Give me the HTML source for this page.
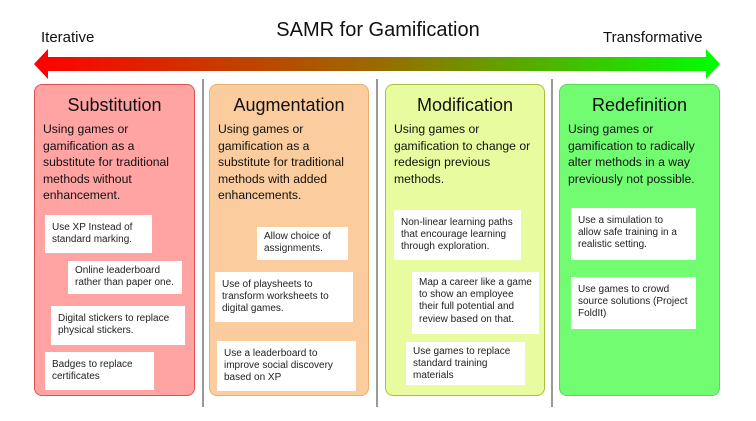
<!DOCTYPE html>
<html><head><style>
body{margin:0;width:756px;height:421px;background:#fff;position:relative;overflow:hidden;font-family:"Liberation Sans",sans-serif;color:#111}
.a{position:absolute}
.p{position:absolute;top:84px;height:312px;width:160px;border-radius:8px;box-sizing:border-box}
.p h2{margin:0;font-weight:normal;font-size:18px;text-align:center;position:absolute;top:10px;left:0;right:0}
.p .d{position:absolute;top:36px;left:8px;font-size:12.2px;line-height:16.6px;white-space:nowrap}
.b{position:absolute;background:#fff;font-size:10px;line-height:12.2px;box-sizing:border-box;padding:7px 7px;color:#222;white-space:nowrap}
.v{position:absolute;top:79px;width:2px;height:328px;background:#999}
</style></head><body>
<div class="a" style="left:0;width:756px;top:19px;text-align:center;font-size:20px">SAMR for Gamification</div>
<div class="a" style="left:41px;top:29px;font-size:15px">Iterative</div>
<div class="a" style="left:603px;top:29px;font-size:15px">Transformative</div>
<svg class="a" style="left:0;top:0" width="756" height="90">
<defs><linearGradient id="g" x1="34" x2="720" gradientUnits="userSpaceOnUse"><stop offset="0" stop-color="#ff0000"/><stop offset="0.5" stop-color="#9a6a00"/><stop offset="1" stop-color="#00ff00"/></linearGradient></defs>
<polygon points="34,64 48,49 48,57 706,57 706,49 720,64 706,79 706,71 48,71 48,79" fill="url(#g)"/>
</svg>
<div class="v" style="left:202px"></div><div class="v" style="left:376px"></div><div class="v" style="left:551px"></div>
<div class="p" style="left:34px;width:161px;background:#ffa3a3;border:1px solid #e05050"><h2>Substitution</h2><div class="d">Using games or<br>gamification as a<br>substitute for traditional<br>methods without<br>enhancement.</div></div>
<div class="p" style="left:209px;background:#fbcc9e;border:1px solid #e8b070"><h2>Augmentation</h2><div class="d">Using games or<br>gamification as a<br>substitute for traditional<br>methods with added<br>enhancements.</div></div>
<div class="p" style="left:385px;background:#e8fb9f;border:1px solid #a8c040"><h2>Modification</h2><div class="d">Using games or<br>gamification to change or<br>redesign previous<br>methods.</div></div>
<div class="p" style="left:559px;width:161px;background:#72fc72;border:1px solid #5ad85a"><h2>Redefinition</h2><div class="d">Using games or<br>gamification to radically<br>alter methods in a way<br>previously not possible.</div></div>
<div class="b" style="left:45px;top:215px;width:107px;height:38px">Use XP Instead of<br>standard marking.</div>
<div class="b" style="left:68px;top:261px;width:114px;height:33px;padding-top:4px">Online leaderboard<br>rather than paper one.</div>
<div class="b" style="left:51px;top:306px;width:134px;height:39px">Digital stickers to replace<br>physical stickers.</div>
<div class="b" style="left:45px;top:352px;width:109px;height:38px">Badges to replace<br>certificates</div>
<div class="b" style="left:257px;top:227px;width:91px;height:33px;padding-top:4px">Allow choice of<br>assignments.</div>
<div class="b" style="left:215px;top:272px;width:138px;height:50px">Use of playsheets to<br>transform worksheets to<br>digital games.</div>
<div class="b" style="left:217px;top:341px;width:139px;height:50px">Use a leaderboard to<br>improve social discovery<br>based on XP</div>
<div class="b" style="left:394px;top:210px;width:127px;height:50px">Non-linear learning paths<br>that encourage learning<br>through exploration.</div>
<div class="b" style="left:412px;top:272px;width:127px;height:62px;padding-top:5px">Map a career like a game<br>to show an employee<br>their full potential and<br>review based on that.</div>
<div class="b" style="left:406px;top:342px;width:119px;height:43px;padding-top:4px">Use games to replace<br>standard training<br>materials</div>
<div class="b" style="left:571px;top:208px;width:125px;height:52px">Use a simulation to<br>allow safe training in a<br>realistic setting.</div>
<div class="b" style="left:571px;top:277px;width:125px;height:52px">Use games to crowd<br>source solutions (Project<br>FoldIt)</div>
</body></html>
